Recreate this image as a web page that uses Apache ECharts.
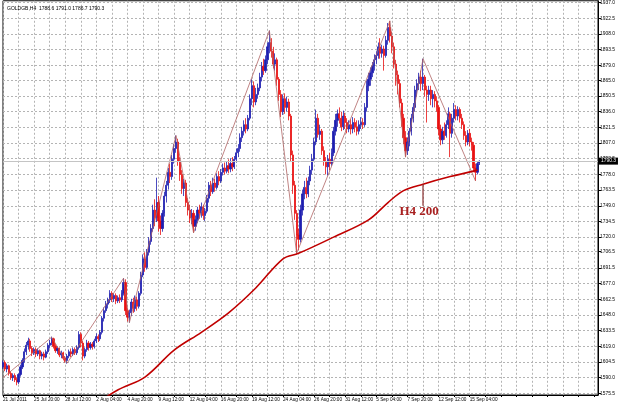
<!DOCTYPE html>
<html>
<head>
<meta charset="utf-8">
<script src="https://cdn.jsdelivr.net/npm/echarts@6/dist/echarts.min.js"></script>
<style>html,body{margin:0;padding:0;background:#fff}#c{width:625px;height:405px}</style>
</head>
<body>
<div id="c"></div>
<script>
// ---- data ----
const tickLabels = ["21 Jul 2011","25 Jul 20:00","28 Jul 12:00","2 Aug 04:00","4 Aug 20:00","9 Aug 12:00","12 Aug 04:00","16 Aug 20:00","19 Aug 12:00","24 Aug 04:00","26 Aug 20:00","31 Aug 12:00","5 Sep 04:00","7 Sep 20:00","12 Sep 12:00","15 Sep 04:00"];
const priceTicks = [1575.5,1590.0,1604.5,1619.0,1633.5,1648.0,1662.5,1677.0,1691.5,1706.5,1720.0,1734.5,1749.0,1763.5,1778.0,1792.5,1807.0,1821.5,1836.0,1850.5,1865.0,1879.0,1893.5,1908.0,1922.5,1937.0];
const opens = [1600,1604,1598,1601,1594,1590,1592,1588,1586,1593,
1600,1606,1614,1620,1624,1617,1613,1616,1612,1615,
1610,1612,1609,1614,1620,1622,1626,1619,1615,1617,
1611,1613,1608,1606,1610,1614,1612,1616,1613,1618,
1630,1622,1610,1616,1622,1618,1621,1619,1624,1628,
1626,1632,1645,1652,1658,1662,1668,1663,1666,1661,
1664,1662,1668,1678,1652,1646,1650,1660,1654,1662,
1656,1668,1685,1700,1692,1706,1716,1728,1745,1738,
1752,1735,1728,1742,1758,1768,1780,1776,1792,1802,
1808,1790,1778,1765,1770,1752,1745,1738,1742,1730,
1736,1745,1742,1748,1740,1744,1756,1768,1762,1770,
1766,1776,1772,1780,1784,1781,1786,1783,1788,1785,
1792,1798,1802,1812,1818,1824,1820,1830,1848,1860,
1845,1852,1858,1868,1878,1874,1884,1896,1900,1892,
1880,1884,1866,1852,1836,1848,1840,1845,1832,1796,
1768,1742,1722,1718,1745,1760,1766,1760,1772,1782,
1792,1808,1830,1815,1818,1800,1790,1785,1792,1788,
1798,1818,1828,1834,1830,1822,1832,1826,1820,1824,
1820,1826,1822,1818,1824,1826,1824,1840,1860,1866,
1872,1878,1884,1888,1896,1890,1894,1888,1902,1914,
1906,1896,1880,1870,1862,1844,1830,1812,1800,1808,
1818,1830,1840,1856,1862,1868,1862,1868,1856,1852,
1856,1848,1852,1846,1840,1820,1810,1818,1814,1824,
1834,1816,1830,1838,1832,1838,1830,1824,1814,1808,
1816,1808,1805,1784,1780,1788.6];
const closes = [1604,1598,1601,1594,1590,1592,1588,1586,1593,1600,
1606,1614,1620,1624,1617,1613,1616,1612,1615,1610,
1612,1609,1614,1620,1622,1626,1619,1615,1617,1611,
1613,1608,1606,1610,1614,1612,1616,1613,1618,1630,
1622,1610,1616,1622,1618,1621,1619,1624,1628,1626,
1632,1645,1652,1658,1662,1668,1663,1666,1661,1664,
1662,1668,1678,1652,1646,1650,1660,1654,1662,1656,
1668,1685,1700,1692,1706,1716,1728,1745,1738,1752,
1735,1728,1742,1758,1768,1780,1776,1792,1802,1808,
1790,1778,1765,1770,1752,1745,1738,1742,1730,1736,
1745,1742,1748,1740,1744,1756,1768,1762,1770,1766,
1776,1772,1780,1784,1781,1786,1783,1788,1785,1792,
1798,1802,1812,1818,1824,1820,1830,1848,1860,1845,
1852,1858,1868,1878,1874,1884,1896,1900,1892,1880,
1884,1866,1852,1836,1848,1840,1845,1832,1796,1768,
1742,1722,1718,1745,1760,1766,1760,1772,1782,1792,
1808,1830,1815,1818,1800,1790,1785,1792,1788,1798,
1818,1828,1834,1830,1822,1832,1826,1820,1824,1820,
1826,1822,1818,1824,1826,1824,1840,1860,1866,1872,
1878,1884,1888,1896,1890,1894,1888,1902,1914,1906,
1896,1880,1870,1862,1844,1830,1812,1800,1808,1818,
1830,1840,1856,1862,1868,1862,1868,1856,1852,1856,
1848,1852,1846,1840,1820,1810,1818,1814,1824,1834,
1816,1830,1838,1832,1838,1830,1824,1814,1808,1816,
1808,1805,1784,1780,1788,1790.3];
const lows = [1598,1596,1595,1592,1588,1587,1586,1583,1584,1591,
1598,1604,1611,1616,1614,1610,1611,1609,1610,1607,
1607,1606,1608,1612,1617,1620,1617,1613,1612,1609,
1608,1606,1604,1603,1608,1609,1610,1611,1611,1616,
1618,1606,1608,1614,1615,1616,1616,1617,1622,1623,
1624,1630,1642,1650,1654,1659,1660,1660,1658,1659,
1659,1660,1666,1648,1642,1641,1647,1650,1651,1652,
1654,1666,1683,1688,1690,1703,1713,1725,1730,1734,
1725,1722,1725,1739,1752,1764,1770,1773,1788,1798,
1786,1772,1760,1758,1748,1740,1733,1732,1724,1726,
1733,1737,1738,1736,1735,1742,1752,1758,1760,1762,
1764,1768,1770,1777,1778,1779,1779,1780,1781,1783,
1789,1794,1799,1808,1814,1816,1818,1828,1842,1840,
1842,1848,1855,1864,1870,1872,1880,1890,1886,1876,
1874,1860,1846,1831,1833,1834,1836,1828,1790,1760,
1736,1705,1708,1715,1740,1755,1756,1757,1768,1778,
1790,1805,1812,1810,1796,1786,1778,1777,1782,1786,
1795,1814,1822,1825,1818,1819,1820,1816,1817,1815,
1816,1817,1814,1815,1820,1820,1822,1836,1855,1860,
1868,1874,1880,1885,1885,1886,1874,1886,1898,1900,
1890,1876,1860,1852,1840,1822,1806,1794,1796,1804,
1814,1826,1836,1850,1856,1855,1856,1850,1826,1846,
1842,1840,1840,1836,1814,1805,1806,1810,1812,1820,
1794,1812,1826,1828,1828,1826,1820,1810,1804,1805,
1804,1800,1780,1772,1778,1786.7];
const highs = [1606,1606,1603,1602,1596,1594,1594,1590,1594,1602,
1608,1617,1623,1627,1626,1619,1618,1618,1617,1616,
1614,1614,1616,1622,1625,1628,1627,1621,1619,1618,
1615,1614,1610,1612,1616,1617,1618,1618,1620,1633,
1632,1624,1618,1625,1624,1623,1623,1626,1631,1630,
1634,1647,1655,1661,1664,1671,1670,1668,1668,1666,
1667,1671,1682,1681,1654,1653,1663,1664,1666,1665,
1670,1688,1704,1706,1709,1720,1732,1750,1755,1775,
1758,1740,1745,1762,1772,1784,1788,1796,1806,1814,
1811,1794,1782,1774,1773,1756,1750,1746,1745,1740,
1748,1750,1752,1750,1747,1759,1771,1772,1775,1774,
1779,1781,1783,1788,1789,1790,1792,1793,1794,1795,
1802,1806,1816,1822,1828,1830,1833,1852,1866,1864,
1858,1862,1872,1882,1885,1888,1900,1911,1904,1896,
1890,1886,1868,1856,1852,1853,1850,1848,1834,1800,
1772,1745,1728,1750,1764,1772,1775,1776,1786,1797,
1812,1838,1834,1824,1820,1804,1794,1796,1798,1802,
1822,1834,1838,1840,1836,1837,1835,1830,1828,1829,
1831,1830,1828,1828,1831,1830,1844,1865,1872,1877,
1882,1889,1892,1900,1904,1898,1897,1906,1918,1920,
1910,1900,1884,1874,1866,1848,1834,1818,1812,1821,
1834,1844,1860,1866,1872,1874,1885,1870,1860,1860,
1860,1856,1855,1850,1842,1824,1822,1826,1828,1840,
1836,1834,1844,1842,1841,1840,1834,1827,1818,1819,
1820,1812,1808,1788,1790,1791.0];
// 200-period moving average, read at sample bars: [bar index, price]
const maPoints = [[48,1566],[59,1578.6],[73,1590.6],[88,1615.5],[102,1632],[116,1650],[130,1673],[144,1700],[152,1705],[170,1720],[188,1736],[198,1752],[206,1763],[216,1769],[230,1776],[244,1782]];
// zigzag pivots: [bar index, price]
const zigzag = [[0,1590],[25,1627.5],[33,1603.5],[62,1682],[65,1641],[89,1814],[98,1724],[137,1911],[151,1705],[199,1920],[207,1794],[216,1885],[243,1772]];
const lastPrice = 1790.3;
const header = "GOLDGB,H4  1788.6 1791.0 1786.7 1790.3";
const maLabel = "H4 200";
const maLabelBar = 216;
const maLabelLineEnd = 1749;
const slotCount = 307;

// ---- chart ----
const categories = [];
for (let i = 0; i < slotCount; i++) categories.push(String(i));
const candles = opens.map((o, i) => [o, closes[i], lows[i], highs[i]]);
const maAtLabel = maPoints.find(p => p[0] === maLabelBar)[1];

const chart = echarts.init(document.getElementById('c'), null, {renderer: 'canvas'});
const fam = 'Liberation Sans, Arial, sans-serif';
chart.setOption({
  animation: false,
  backgroundColor: '#fff',
  title: {text: header, left: 2, top: 1, textStyle: {fontFamily: fam, fontSize: 5, fontWeight: 'normal', color: '#000'}},
  grid: {left: 0, right: 27, top: 0, bottom: 10, show: true, borderColor: '#000', borderWidth: 1, backgroundColor: '#fff'},
  xAxis: {
    type: 'category', data: categories, boundaryGap: false,
    axisLine: {show: true, lineStyle: {color: '#000', width: 1}},
    axisTick: {show: true, interval: 7, length: 2, lineStyle: {color: '#000'}},
    axisLabel: {
      fontFamily: fam, fontSize: 4.7, color: '#000',
      interval: (idx) => idx % 16 === 0 && idx / 16 < tickLabels.length,
      formatter: (v) => tickLabels[Math.round(Number(v) / 16)] || '',
      align: 'left', margin: 2
    },
    splitLine: {show: true, interval: 7, lineStyle: {color: '#b4b4b4', type: [2, 2], width: 1}}
  },
  yAxis: {
    type: 'value', position: 'right', min: 1574.0, max: 1938.6, scale: true,
    axisLine: {show: true, lineStyle: {color: '#000', width: 1}},
    axisTick: {show: true, length: 3, customValues: priceTicks, lineStyle: {color: '#000'}},
    axisLabel: {fontFamily: fam, fontSize: 4.9, color: '#000', customValues: priceTicks, margin: 2, formatter: (v) => Number(v).toFixed(1)},
    splitLine: {show: true, lineStyle: {color: '#b4b4b4', type: [2, 2], width: 1}}
  },
  series: [
    {
      type: 'candlestick', data: candles, barWidth: 1.7,
      itemStyle: {color: '#1e1eb0', color0: '#e81010', borderColor: '#1e1eb0', borderColor0: '#e81010', borderWidth: 0.8},
      markLine: {
        silent: true, symbol: 'none', animation: false,
        lineStyle: {color: '#c4c4c4', type: 'solid', width: 1},
        label: {position: 'end', distance: 1, formatter: lastPrice.toFixed(1), backgroundColor: '#000', color: '#fff', fontSize: 4.9, fontFamily: fam, padding: [1, 2]},
        data: [{yAxis: lastPrice}]
      },
      z: 3
    },
    {
      type: 'line', data: zigzag, showSymbol: false, symbol: 'none',
      lineStyle: {color: '#b06464', width: 0.8}, z: 4
    },
    {
      type: 'line', data: maPoints, smooth: 0.35, showSymbol: false, symbol: 'none',
      lineStyle: {color: '#c00000', width: 1.6}, z: 5,
      markPoint: {
        silent: true, symbol: 'rect', symbolSize: 1, itemStyle: {color: 'rgba(0,0,0,0)'},
        label: {show: true, formatter: maLabel, color: '#a82020', fontFamily: 'Liberation Serif, Times New Roman, serif', fontWeight: 'bold', fontSize: 13, position: 'inside'},
        data: [{coord: [maLabelBar - 2, 1743.5]}]
      }
    },
    {
      type: 'line', data: [[maLabelBar, maAtLabel], [maLabelBar, maLabelLineEnd]], showSymbol: false, symbol: 'none',
      lineStyle: {color: '#8a3030', width: 1.2}, z: 6, silent: true
    }
  ]
});
</script>
</body>
</html>
